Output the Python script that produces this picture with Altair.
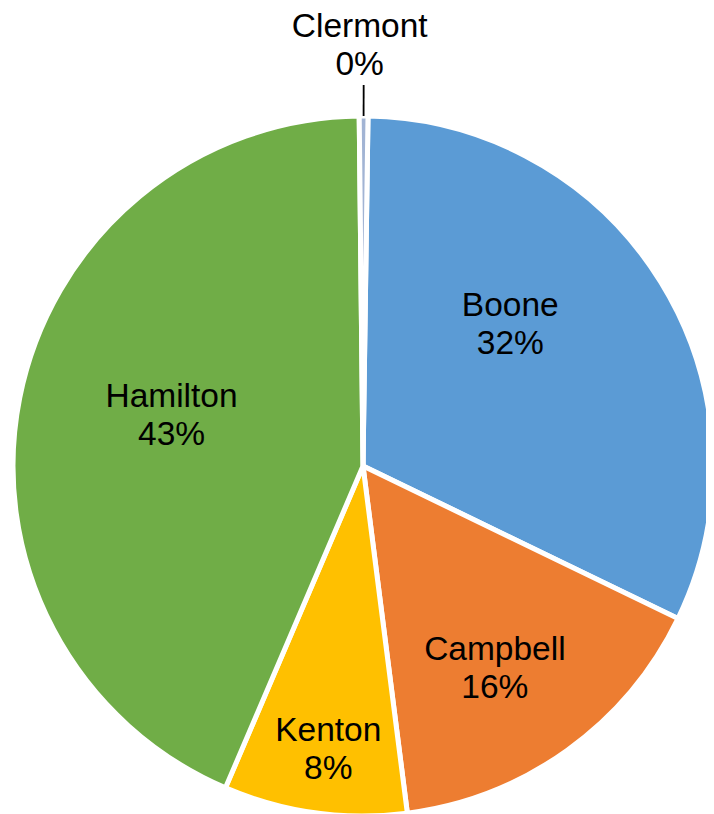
import math
import altair as alt
import pandas as pd

# Data
counties = ["Boone", "Campbell", "Kenton", "Hamilton", "Clermont"]
shares = [31.95, 15.8, 8.45, 43.4, 0.4]
colors = ["#5B9BD5", "#ED7D31", "#FFC000", "#70AD47", "#A2B4D4"]

# Label placement (style): distance from centre in px, angular nudge in degrees
label_radius = [204, 242, 286, 198, 420]
label_nudge_deg = [-12.1, 2.7, -0.95, 3.5, -0.55]

CX, CY, R = 355, 458, 350
START = 0.0143  # small rotation of the pie start (radians)
FS, LH = 33.5, 38

df = pd.DataFrame({
    "county": counties,
    "share": shares,
    "idx": list(range(len(counties))),
    "lr": label_radius,
    "nudge": label_nudge_deg,
})

base = alt.Chart(df)

pie = base.mark_arc(radius=R, stroke="white", strokeWidth=5).encode(
    theta=alt.Theta("share:Q", stack=True,
                    scale=alt.Scale(range=[START, START + 2 * math.pi])),
    order=alt.Order("idx:Q", sort="ascending"),
    color=alt.Color("county:N", scale=alt.Scale(domain=counties, range=colors),
                    legend=None),
    x=alt.value(CX),
    y=alt.value(CY),
)

geo = base.transform_window(
    cum="sum(share)", sort=[alt.SortField("idx")], frame=[None, 0]
).transform_joinaggregate(
    total="sum(share)"
).transform_calculate(
    amid=f"(datum.cum - datum.share/2)/datum.total*2*PI + {START}"
).transform_calculate(
    ang="datum.amid + datum.nudge*PI/180"
).transform_calculate(
    lx=f"{CX} + datum.lr*sin(datum.ang)",
    ly=f"{CY} - datum.lr*cos(datum.ang)",
    label="datum.county + '|' + format(datum.share, '.0f') + '%'",
)

labels = geo.mark_text(
    font="Liberation Sans", fontSize=FS, lineBreak="|", lineHeight=LH,
    align="center", baseline="middle", color="black", dy=-LH / 2,
).encode(
    x=alt.X("lx:Q", scale=None),
    y=alt.Y("ly:Q", scale=None),
    text="label:N",
)

leader = geo.transform_filter(
    "datum.county == 'Clermont'"
).transform_calculate(
    x1=f"{CX} + {R}*sin(datum.amid)",
    y1=f"{CY} - {R}*cos(datum.amid)",
    x2=f"{CX} + 381*sin(datum.amid)",
    y2=f"{CY} - 381*cos(datum.amid)",
).mark_rule(color="black", strokeWidth=1.8).encode(
    x=alt.X("x1:Q", scale=None),
    y=alt.Y("y1:Q", scale=None),
    x2="x2:Q",
    y2="y2:Q",
)

chart = alt.layer(pie, leader, labels).properties(
    width=698, height=806, autosize="none", padding=0,
).configure_view(stroke=None)

chart.save("out.html", embed_options={"renderer": "svg", "actions": False})
